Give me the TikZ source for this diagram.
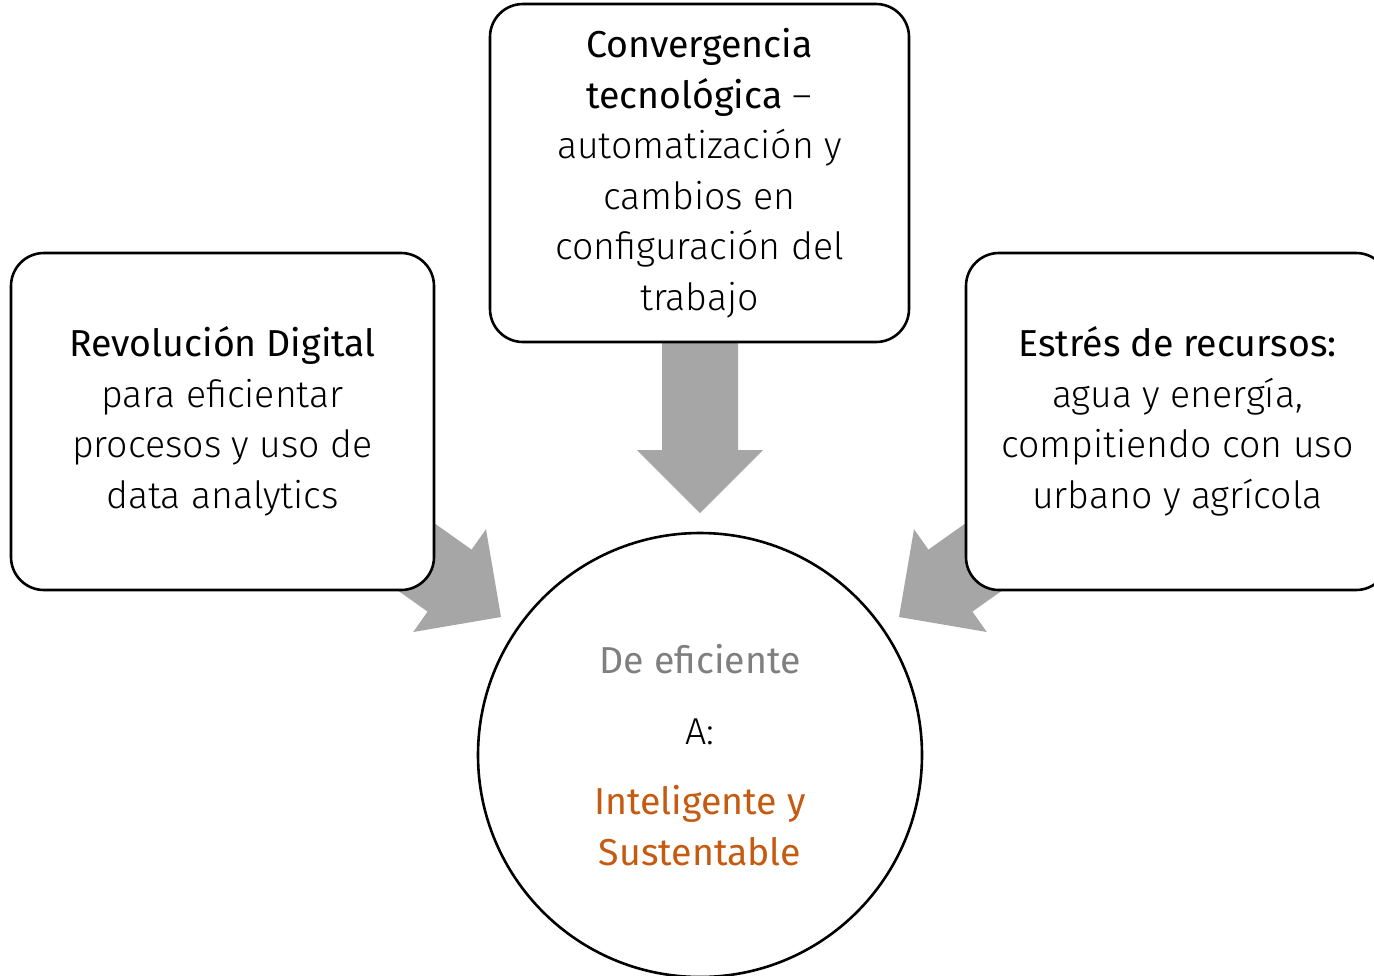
\documentclass[tikz,border=0pt]{standalone}
\usepackage{fontspec}
\setmainfont{Fira Sans Light}[BoldFont={Fira Sans}]
\definecolor{arrowgray}{HTML}{A6A6A6}
\definecolor{txtgray}{HTML}{7F7F7F}
\definecolor{accent}{HTML}{C55A11}
\begin{document}
\begin{tikzpicture}[x=1pt,y=-1pt,
  box/.style={draw=black,line width=2.6pt,rounded corners=33pt,fill=white,
    align=center,inner sep=0pt,font=\fontsize{37.5}{50.5}\selectfont},
  goal/.style={draw=black,line width=2.6pt,circle,fill=white,
    align=center,inner sep=0pt,minimum size=444pt,font=\fontsize{37.5}{50.5}\selectfont},
  blockarrow/.style={fill=arrowgray}]
\useasboundingbox (0,0) rectangle (1374,975);
\clip (0,0) rectangle (1374,975);
% block arrows (drawn first, their tails lie under the boxes)
\fill[blockarrow] (662,330) -- (738,330) -- (738,450) -- (763,450) -- (700,513)
  -- (637,450) -- (662,450) -- cycle;
\fill[blockarrow] (359.8,470.4) -- (471.6,549.6) -- (486.0,529.2) -- (501,617)
  -- (413.2,632.0) -- (427.6,611.6) -- (315.8,532.4) -- cycle;
\fill[blockarrow] (1040.2,470.4) -- (928.4,549.6) -- (914,529.2) -- (899,617)
  -- (986.8,632.0) -- (972.4,611.6) -- (1084.2,532.4) -- cycle;
% boxes
\node[box,minimum width=419pt,minimum height=338pt] (tech) at (699.5,173)
  {\textbf{Convergencia}\\\textbf{tecnológica} –\\automatización y\\cambios en\\configuración del\\trabajo};
\node[box,minimum width=423pt,minimum height=337pt] (digital) at (222.5,421.5)
  {\textbf{Revolución Digital}\\para eficientar\\procesos y uso de\\data analytics};
\node[box,minimum width=423pt,minimum height=337pt] (stress) at (1177.5,421.5)
  {\textbf{Estrés de recursos:}\\agua y energía,\\compitiendo con uso\\urbano y agrícola};
\node[goal] (goal) at (700,755)
  {\textcolor{txtgray}{\textbf{De eficiente}}\\[20pt]A:\\[20pt]\textcolor{accent}{\textbf{Inteligente y}}\\\textcolor{accent}{\textbf{Sustentable}}};
\end{tikzpicture}
\end{document}
